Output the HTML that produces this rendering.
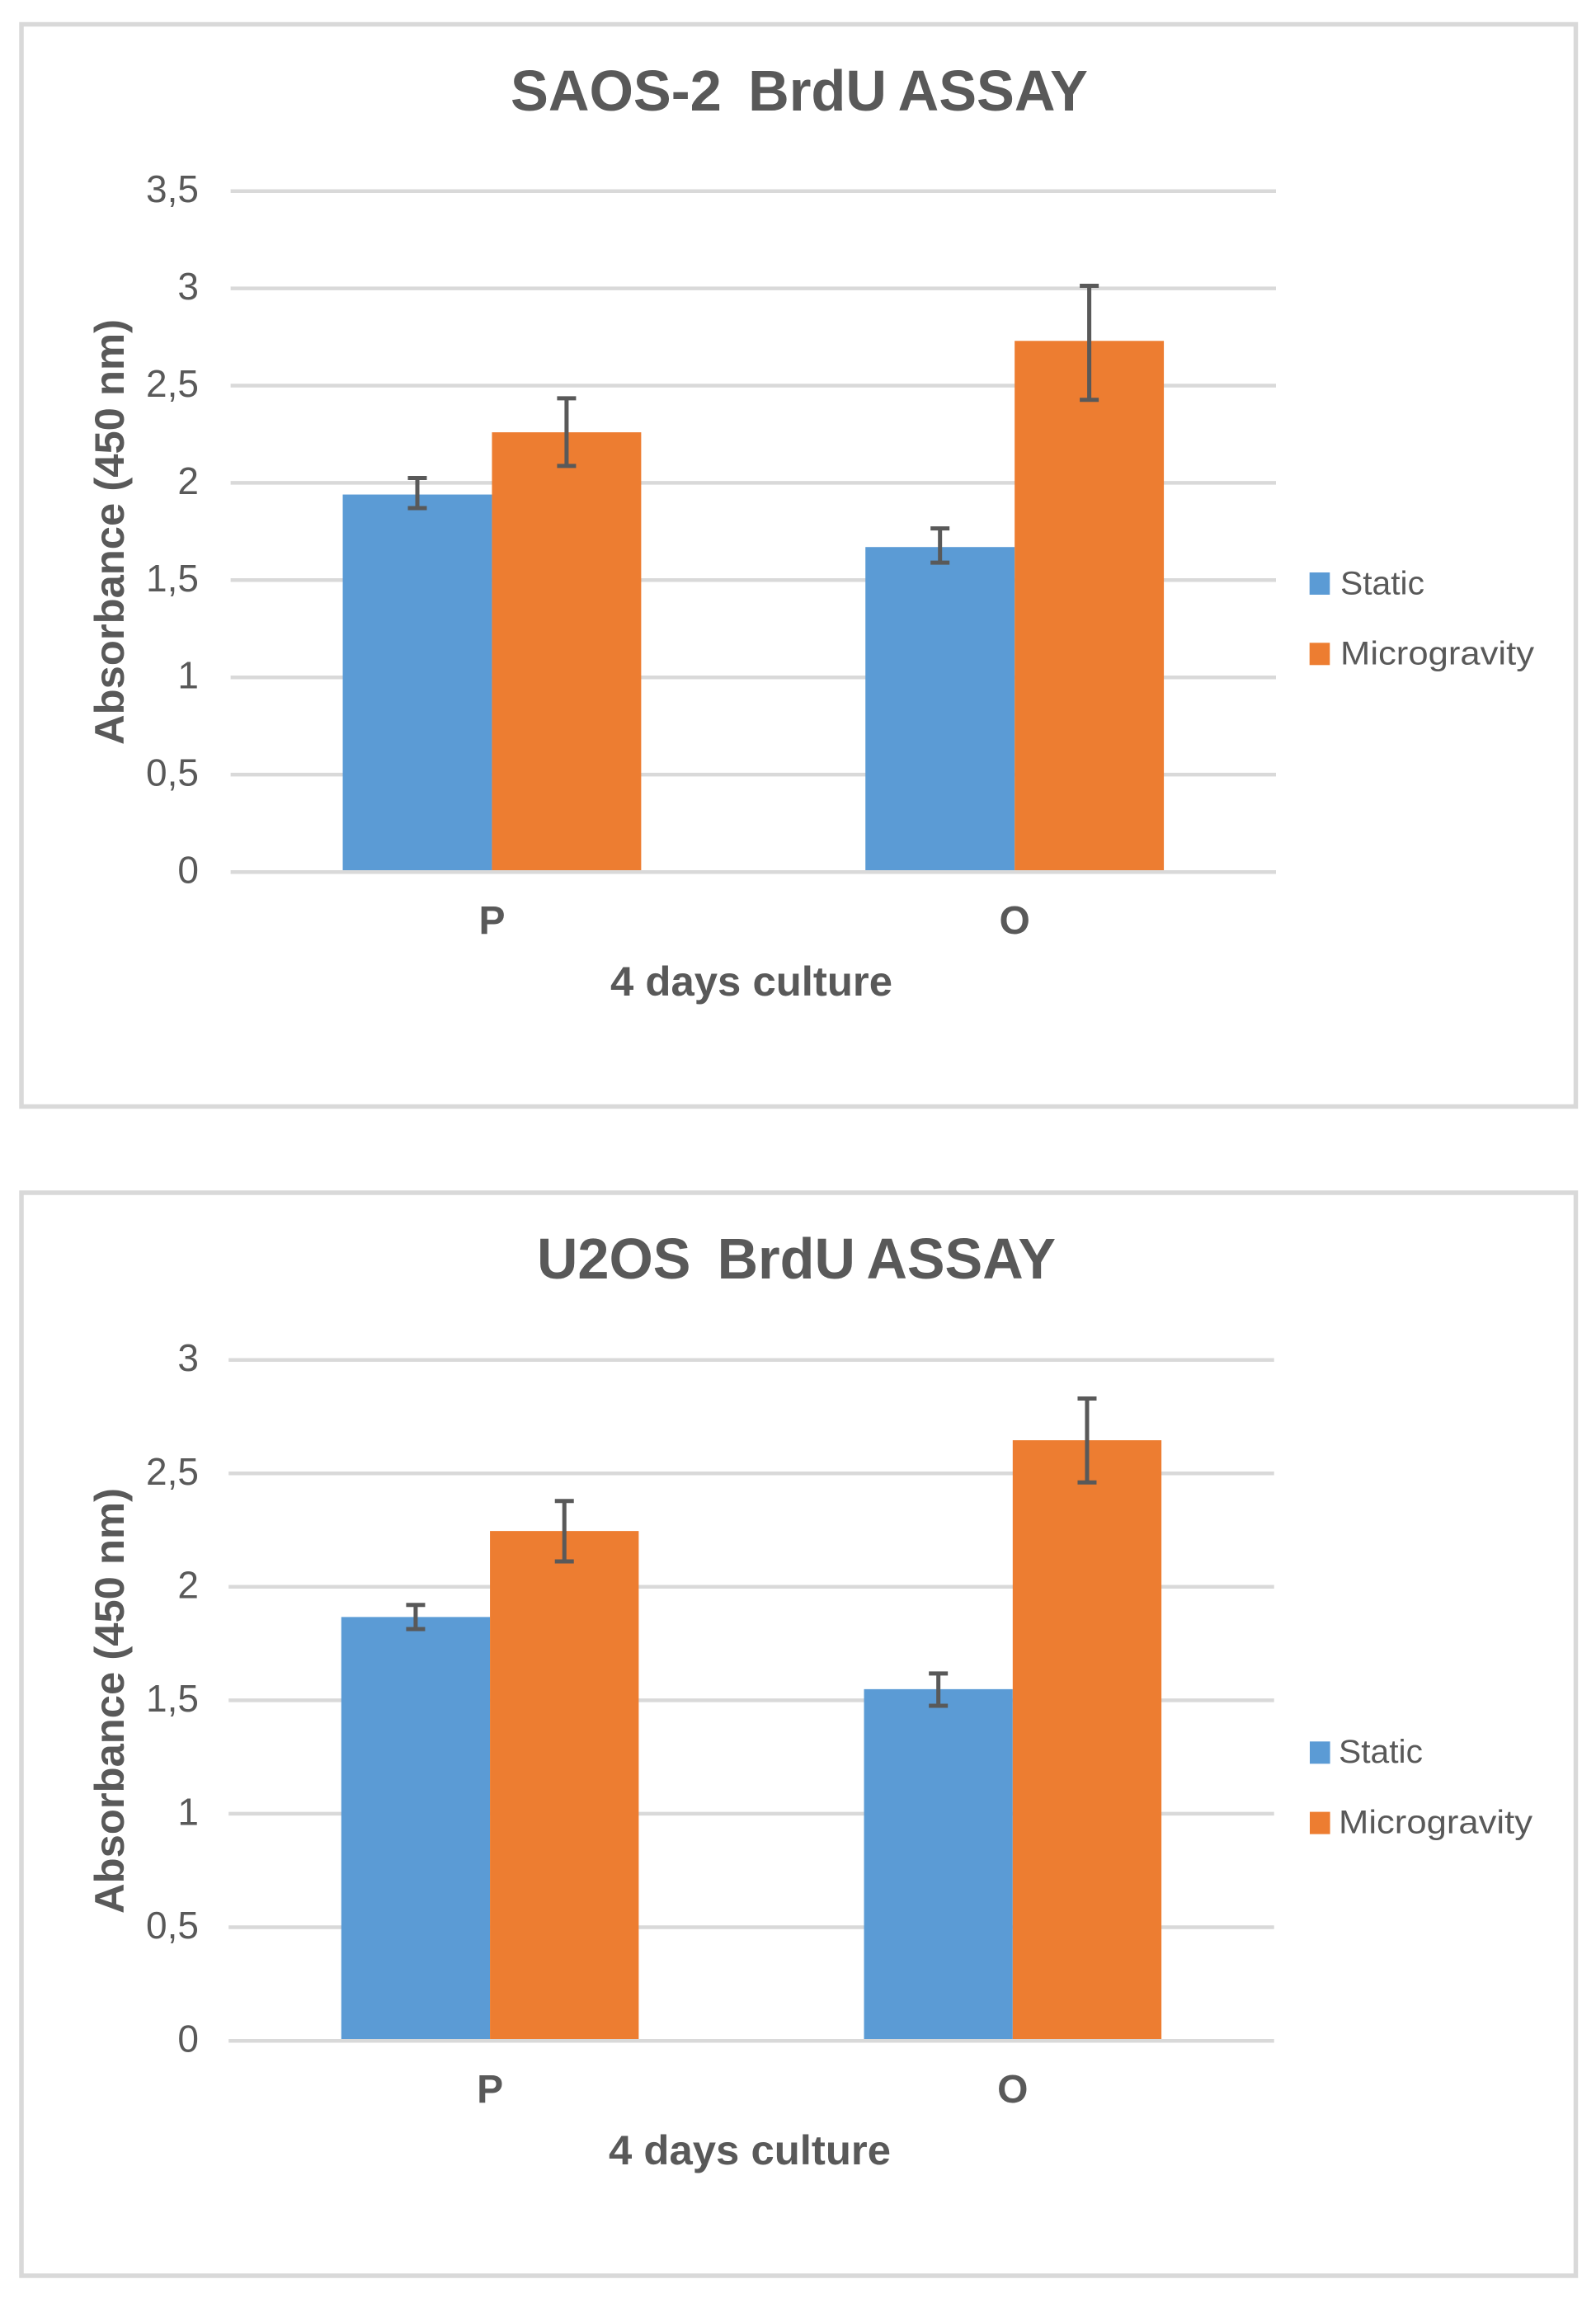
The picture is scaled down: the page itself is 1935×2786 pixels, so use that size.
<!DOCTYPE html>
<html lang="en">
<head>
<meta charset="utf-8">
<title>SAOS-2 and U2OS BrdU Assay</title>
<style>
html,body{margin:0;padding:0;background:#fff;width:1935px;height:2786px;overflow:hidden}
svg{display:block}
text{font-family:"Liberation Sans",sans-serif;fill:#595959;white-space:pre}
.b{font-weight:700}
.t{word-spacing:-3px}
</style>
</head>
<body>
<svg id="figure" xmlns="http://www.w3.org/2000/svg" width="1935" height="2786" viewBox="0 0 1935 2786">
  <rect width="1935" height="2786" fill="#fff"/>

  <g id="chart-a">
    <rect x="26" y="29.5" width="1884.5" height="1312" fill="#fff" stroke="#D9D9D9" stroke-width="5.5"/>
    <text class="b t" x="619" y="134" font-size="70" textLength="700" lengthAdjust="spacingAndGlyphs">SAOS-2  BrdU ASSAY</text>
    <text class="b" transform="translate(150 903) rotate(-90)" x="0" y="0" font-size="50" textLength="516" lengthAdjust="spacingAndGlyphs">Absorbance (450 nm)</text>
    <text class="b" x="740" y="1207" font-size="50" textLength="342" lengthAdjust="spacingAndGlyphs">4 days culture</text>
    <rect x="1587.7" y="694" width="24.6" height="27" fill="#5B9BD5"/>
    <text x="1625" y="720.5" font-size="40" textLength="102" lengthAdjust="spacingAndGlyphs">Static</text>
    <rect x="1587.7" y="779.3" width="24.6" height="27" fill="#ED7D31"/>
    <text x="1625" y="805.5" font-size="40" textLength="235" lengthAdjust="spacingAndGlyphs">Microgravity</text>
  </g>

  <g id="chart-b">
    <rect x="26" y="1446" width="1884.5" height="1313" fill="#fff" stroke="#D9D9D9" stroke-width="5.5"/>
    <text class="b t" x="651" y="1550" font-size="70" textLength="629" lengthAdjust="spacingAndGlyphs">U2OS  BrdU ASSAY</text>
    <text class="b" transform="translate(150 2320) rotate(-90)" x="0" y="0" font-size="50" textLength="516" lengthAdjust="spacingAndGlyphs">Absorbance (450 nm)</text>
    <text class="b" x="738" y="2624" font-size="50" textLength="342" lengthAdjust="spacingAndGlyphs">4 days culture</text>
    <rect x="1588" y="2111.3" width="24.6" height="27" fill="#5B9BD5"/>
    <text x="1623" y="2137" font-size="40" textLength="102" lengthAdjust="spacingAndGlyphs">Static</text>
    <rect x="1588" y="2196.6" width="24.6" height="27" fill="#ED7D31"/>
    <text x="1623" y="2222.5" font-size="40" textLength="235" lengthAdjust="spacingAndGlyphs">Microgravity</text>
  </g>
</svg>

<script>
var categories = ['P', 'O'];

var saosTickValues = [0, 0.5, 1, 1.5, 2, 2.5, 3, 3.5];
var saosTickLabels = ['0', '0,5', '1', '1,5', '2', '2,5', '3', '3,5'];
var saosStatic = [1.94, 1.67];
var saosMicrogravity = [2.26, 2.73];
var saosStaticHigh = [2.025, 1.766];
var saosStaticLow = [1.87, 1.59];
var saosMicrogravityHigh = [2.435, 3.013];
var saosMicrogravityLow = [2.087, 2.427];

var u2osTickValues = [0, 0.5, 1, 1.5, 2, 2.5, 3];
var u2osTickLabels = ['0', '0,5', '1', '1,5', '2', '2,5', '3'];
var u2osStatic = [1.867, 1.549];
var u2osMicrogravity = [2.246, 2.646];
var u2osStaticHigh = [1.92, 1.618];
var u2osStaticLow = [1.814, 1.476];
var u2osMicrogravityHigh = [2.378, 2.83];
var u2osMicrogravityLow = [2.112, 2.46];

var SVG_NS = 'http://www.w3.org/2000/svg';

function make(parent, tag, attrs, name, label) {
  var el = document.createElementNS(SVG_NS, tag);
  for (var k in attrs) el.setAttribute(k, attrs[k]);
  
  
  if (label !== undefined) el.textContent = label;
  parent.appendChild(el);
  return el;
}

function drawChart(cfg) {
  var root = document.getElementById(cfg.rootId);
  var axisMax = cfg.tickValues[cfg.tickValues.length - 1];
  function yScale(v) {
    return cfg.plotBottom - (v / axisMax) * (cfg.plotBottom - cfg.plotTop);
  }
  var catWidth = (cfg.plotRight - cfg.plotLeft) / categories.length;
  var barWidth = catWidth * cfg.barFraction;
  function catCenter(i) {
    return cfg.plotLeft + catWidth * (i + 0.5);
  }

  cfg.tickValues.forEach(function (v, i) {
    var y = yScale(v);
    if (v !== 0) {
      make(root, 'line', {x1: cfg.plotLeft, x2: cfg.plotRight, y1: y, y2: y, stroke: '#D9D9D9', 'stroke-width': 4.5}, cfg.prefix + '-gridline-' + cfg.tickLabels[i]);
    }
    make(root, 'text', {x: 241, y: y + 13.5, 'text-anchor': 'end', 'font-size': 46}, cfg.prefix + '-y-tick-label-' + cfg.tickLabels[i], cfg.tickLabels[i]);
  });

  var series = [
    {key: 'static', values: cfg.staticValues, high: cfg.staticHigh, low: cfg.staticLow, color: '#5B9BD5', offset: -1},
    {key: 'microgravity', values: cfg.microValues, high: cfg.microHigh, low: cfg.microLow, color: '#ED7D31', offset: 0}
  ];

  series.forEach(function (s) {
    categories.forEach(function (c, i) {
      var x = catCenter(i) + s.offset * barWidth;
      var top = yScale(s.values[i]);
      make(root, 'rect', {x: x, y: top, width: barWidth, height: yScale(0) - top, fill: s.color}, cfg.prefix + '-bar-' + s.key + '-' + c);
    });
  });

  make(root, 'line', {x1: cfg.plotLeft, x2: cfg.plotRight, y1: yScale(0) + 0.2, y2: yScale(0) + 0.2, stroke: '#D9D9D9', 'stroke-width': 4.5}, cfg.prefix + '-x-axis-line');

  series.forEach(function (s) {
    categories.forEach(function (c, i) {
      var cx = catCenter(i) + s.offset * barWidth + barWidth / 2;
      var hi = yScale(s.high[i]);
      var lo = yScale(s.low[i]);
      var attrs = {stroke: '#595959', 'stroke-width': 5};
      make(root, 'line', Object.assign({x1: cx, x2: cx, y1: hi, y2: lo}, attrs), cfg.prefix + '-error-stem-' + s.key + '-' + c);
      make(root, 'line', Object.assign({x1: cx - 11.5, x2: cx + 11.5, y1: hi, y2: hi}, attrs), cfg.prefix + '-error-cap-high-' + s.key + '-' + c);
      make(root, 'line', Object.assign({x1: cx - 11.5, x2: cx + 11.5, y1: lo, y2: lo}, attrs), cfg.prefix + '-error-cap-low-' + s.key + '-' + c);
    });
  });

  categories.forEach(function (c, i) {
    make(root, 'text', {x: catCenter(i), y: cfg.categoryBaseline, 'text-anchor': 'middle', 'font-size': 48, 'font-weight': 700}, cfg.prefix + '-x-tick-label-' + c, c);
  });
}

drawChart({
  rootId: 'chart-a', prefix: 'saos2',
  plotLeft: 279.6, plotRight: 1547, plotTop: 231.7, plotBottom: 1057,
  barFraction: 0.2855, categoryBaseline: 1132,
  tickValues: saosTickValues, tickLabels: saosTickLabels,
  staticValues: saosStatic, microValues: saosMicrogravity,
  staticHigh: saosStaticHigh, staticLow: saosStaticLow,
  microHigh: saosMicrogravityHigh, microLow: saosMicrogravityLow
});

drawChart({
  rootId: 'chart-b', prefix: 'u2os',
  plotLeft: 277.2, plotRight: 1544.7, plotTop: 1648.7, plotBottom: 2474,
  barFraction: 0.2845, categoryBaseline: 2549,
  tickValues: u2osTickValues, tickLabels: u2osTickLabels,
  staticValues: u2osStatic, microValues: u2osMicrogravity,
  staticHigh: u2osStaticHigh, staticLow: u2osStaticLow,
  microHigh: u2osMicrogravityHigh, microLow: u2osMicrogravityLow
});
</script>
</body>
</html>
